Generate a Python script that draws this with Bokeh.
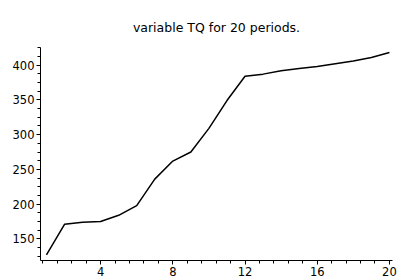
from bokeh.plotting import figure
from bokeh.models import Range1d, SingleIntervalTicker, Title
from bokeh.embed import file_html
from bokeh.resources import INLINE

periods = list(range(1, 21))
tq = [127, 171, 174, 175, 184, 198, 236, 262, 275, 309, 349, 384, 387, 392, 395, 398, 402, 406, 411, 418]
x_ticks = [4, 8, 12, 16, 20]
y_ticks = [150, 200, 250, 300, 350, 400]
title_text = "variable TQ for 20 periods."

p = figure(width=398, height=278, output_backend="svg", toolbar_location=None,
           x_range=Range1d(0.67, 20.17), y_range=Range1d(119, 425.3),
           min_border_left=40, min_border_right=6, min_border_top=47, min_border_bottom=13)
p.title = Title(text=title_text, align="center",
                text_font="DejaVu Sans", text_font_size="12.5px", text_font_style="normal",
                text_color="black", standoff=26, offset=5)
p.line(periods, tq, line_color="black", line_width=1.5)

p.xgrid.visible = False
p.ygrid.visible = False
p.outline_line_color = None
p.background_fill_color = "white"
p.border_fill_color = "white"

for ax in (p.xaxis[0], p.yaxis[0]):
    ax.axis_line_color = "black"
    ax.major_tick_line_color = "black"
    ax.minor_tick_line_color = "black"
    ax.major_tick_in = 0
    ax.minor_tick_in = 0
    ax.major_tick_out = 4
    ax.minor_tick_out = 3
    ax.major_label_text_font = "DejaVu Sans"
    ax.major_label_text_font_size = "11.5px"
    ax.major_label_text_color = "black"
    ax.major_label_standoff = 2

p.xaxis.ticker = SingleIntervalTicker(interval=4, num_minor_ticks=5)
p.yaxis.ticker = SingleIntervalTicker(interval=50, num_minor_ticks=4)

open("out.html", "w").write(file_html(p, INLINE))
